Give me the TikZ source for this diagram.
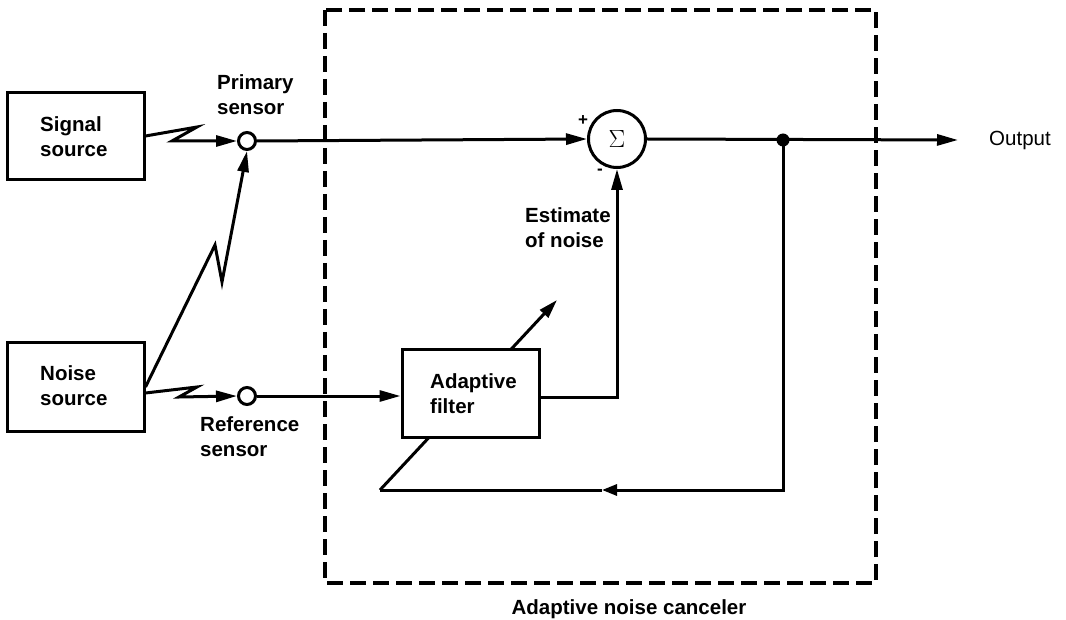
\documentclass[tikz,border=0pt]{standalone}
\usepackage{fontspec}
\setmainfont{Liberation Sans}
\usetikzlibrary{arrows.meta}
\begin{document}
\begin{tikzpicture}[x=1pt,y=-1pt,
  lbl/.style={font=\fontsize{20.5}{25}\selectfont\bfseries, align=left, inner sep=0pt},
  blk/.style={draw, line width=3pt, fill=white, inner sep=0pt},
  sensor/.style={draw, circle, line width=3pt, minimum size=17pt, inner sep=0pt},
  wire/.style={line width=3pt},
  arr/.style={wire, -{Triangle[length=21pt,width=11pt]}},
  sarr/.style={wire, -{Triangle[length=15pt,width=11pt]}}]
\useasboundingbox (0,0) rectangle (1066,620);

% dashed enclosure
\draw[line width=3.3pt, dash pattern=on 16pt off 7pt] (325,10) rectangle (876,583);
\node[lbl] (anc) at (629,609) {Adaptive noise canceler};

% blocks
\node[blk, minimum width=137pt, minimum height=87pt] (sig) at (75.5,136.5) {};
\node[lbl, anchor=west] (sigt) at (40,137) {Signal\\source};
\node[blk, minimum width=137pt, minimum height=88pt] (noi) at (75.5,387) {};
\node[lbl, anchor=west] (noit) at (40,386) {Noise\\source};

% sensors
\node[sensor] (ps) at (247,141) {};
\node[lbl, anchor=west] (pst) at (217,95) {Primary\\sensor};
\node[sensor] (rs) at (247,396) {};
\node[lbl, anchor=west] (rst) at (200,437) {Reference\\sensor};

% sum junction
\node[draw, circle, line width=3pt, minimum size=57pt, inner sep=0pt,
      font=\fontsize{30}{30}\selectfont] (sum) at (617,139) {$\Sigma$};
\node[font=\fontsize{17}{17}\selectfont\bfseries, inner sep=0pt] (plus) at (583,121) {+};
\node[font=\fontsize{17}{17}\selectfont\bfseries, inner sep=0pt] (minus) at (600,172) {-};
\node[lbl, anchor=west] (est) at (525,228) {Estimate\\of noise};

% output
\node[font=\fontsize{20.5}{25}\selectfont, inner sep=0pt, anchor=west] (out) at (989,140) {Output};
\coordinate (outend) at (958,140);
\coordinate (dot) at (783,140);
\fill (dot) circle (6.5pt);

% adjustment arrow (drawn under the filter box)
\coordinate (fbl) at (380,490);
\coordinate (adj) at (557,300);
\draw[wire, -{Triangle[length=19pt,width=11pt]}] (fbl) -- (adj);

% adaptive filter
\node[blk, minimum width=137pt, minimum height=87pt] (af) at (470.5,393.5) {};
\node[lbl, anchor=west] (aft) at (430,393.5) {Adaptive\\filter};

% signal paths
\coordinate (z1a) at (197,127);
\coordinate (z1b) at (172,141);
\draw[arr] (sig.east |- 0,136) -- (z1a) -- (z1b) -- (ps.west);

\coordinate (z2a) at (197,387);
\coordinate (z2b) at (179,397);
\draw[arr] (noi.east |- 0,393) -- (z2a) -- (z2b) -- (rs.west);

\coordinate (z3a) at (215,245);
\coordinate (z3b) at (222,282);
\draw[arr] (noi.east |- 0,387) -- (z3a) -- (z3b) -- (ps.south);

\draw[arr] (ps.east) -- (sum.west);
\draw[arr] (rs.east) -- (af.west |- rs.east);
\draw[arr] (af.east |- 0,397) -- (617,397) -- (sum.south);
\draw[arr] (sum.east) -- (outend);

% feedback
\coordinate (fbr) at (783,490);
\coordinate (fbm) at (602,490);
\draw[sarr] (dot) -- (fbr) -- (fbm);
\draw[wire] (fbm) -- (fbl);
\end{tikzpicture}
\end{document}
